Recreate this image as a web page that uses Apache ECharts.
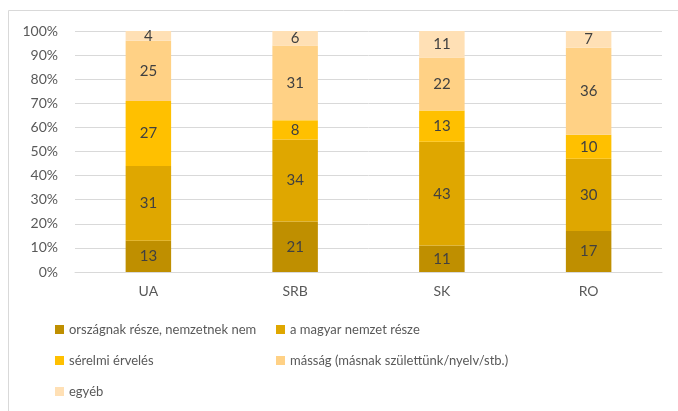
<!DOCTYPE html>
<html>
<head>
<meta charset="utf-8">
<script src="https://cdn.jsdelivr.net/npm/echarts@6/dist/echarts.min.js"></script>
<style>
  html, body { margin: 0; padding: 0; background: #fff; }
  #main { width: 678px; height: 411px; }
</style>
</head>
<body>
<div id="main"></div>
<script>
var categories = ['UA', 'SRB', 'SK', 'RO']
var seriesNames = [
  'országnak része, nemzetnek nem',
  'a magyar nemzet része',
  'sérelmi érvelés',
  'másság (másnak születtünk/nyelv/stb.)',
  'egyéb'
]
var orszagResze = [13, 21, 11, 17]
var nemzetResze = [31, 34, 43, 30]
var serelmi = [27, 8, 13, 10]
var massag = [25, 31, 22, 36]
var egyeb = [4, 6, 11, 7]
var colors = ['#BF8F00', '#DFA700', '#FFC000', '#FFD185', '#FFE0B5']

var font = 'Lato, "Liberation Sans", sans-serif'
var allData = [orszagResze, nemzetResze, serelmi, massag, egyeb]

var series = allData.map(function (d, i) {
  return {
    name: seriesNames[i],
    type: 'bar',
    stack: 'total',
    barWidth: '31%',
    data: d,
    itemStyle: { color: colors[i] },
    label: {
      show: true,
      position: 'inside',
      color: '#404040',
      fontFamily: font,
      fontSize: 15
    }
  }
})

var legendText = { color: '#595959', fontFamily: font, fontSize: 13 }

var myChart = echarts.init(document.getElementById('main'))
myChart.setOption({
  animation: false,
  graphic: [{
    type: 'rect',
    shape: { x: 8.5, y: 10.5, width: 700, height: 420 },
    style: { fill: 'none', stroke: '#d9d9d9', lineWidth: 1 },
    silent: true
  }],
  grid: { left: 75, right: 16, top: 31, bottom: 139 },
  legend: [{
    orient: 'vertical',
    left: 50,
    top: 318,
    itemWidth: 9,
    itemHeight: 9,
    itemGap: 18,
    icon: 'rect',
    textStyle: legendText,
    data: [seriesNames[0], seriesNames[2], seriesNames[4]]
  }, {
    orient: 'vertical',
    left: 271,
    top: 318,
    itemWidth: 9,
    itemHeight: 9,
    itemGap: 18,
    icon: 'rect',
    textStyle: legendText,
    data: [seriesNames[1], seriesNames[3]]
  }],
  xAxis: {
    type: 'category',
    data: categories,
    axisLine: { lineStyle: { color: '#d9d9d9' } },
    axisTick: { show: false },
    axisLabel: { color: '#595959', fontFamily: font, fontSize: 14, margin: 12 }
  },
  yAxis: {
    type: 'value',
    min: 0,
    max: 100,
    interval: 10,
    axisLine: { show: false },
    axisTick: { show: false },
    axisLabel: {
      color: '#595959', fontFamily: font, fontSize: 14, margin: 17,
      formatter: '{value}%'
    },
    splitLine: { lineStyle: { color: '#d9d9d9' } }
  },
  series: series
})
</script>
</body>
</html>
